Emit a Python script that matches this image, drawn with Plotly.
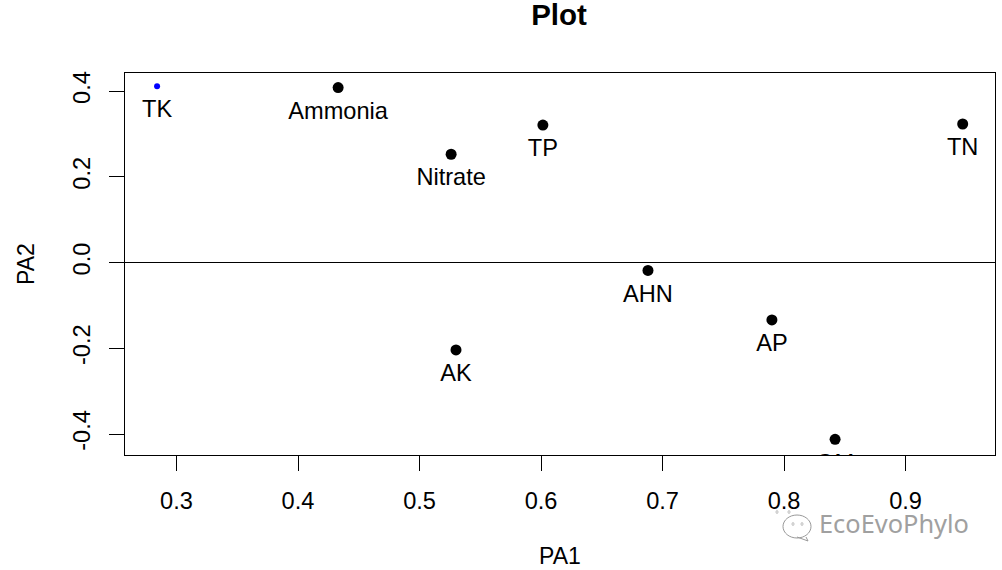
import plotly.graph_objects as go

names = ["TK", "Ammonia", "Nitrate", "TP", "TN", "AHN", "AP", "AK", "OM"]
pa1 = [0.284, 0.433, 0.526, 0.6015, 0.947, 0.688, 0.79, 0.53, 0.842]
pa2 = [0.411, 0.408, 0.2525, 0.3205, 0.323, -0.0185, -0.134, -0.204, -0.4125]
colors = ["#0000ff"] + ["#000000"] * 8
sizes = [6] + [11] * 8
x_ticks = [0.3, 0.4, 0.5, 0.6, 0.7, 0.8, 0.9]
y_ticks = [-0.4, -0.2, 0.0, 0.2, 0.4]
x_tick_labels = ["0.3", "0.4", "0.5", "0.6", "0.7", "0.8", "0.9"]
y_tick_labels = ["-0.4", "-0.2", "0.0", "0.2", "0.4"]
FONT = "Liberation Sans"
W, H = 1002, 570
L, R, T, B = 125, 995, 73, 455


def px(x):
    return (x - L) / (R - L)


def py(y):
    return (B - y) / (B - T)


def bubble(x0, x1, y0, y1, tx0, tx1, ty0, tipx, tipy):
    k = 0.5523
    cx, cy, a, b = (x0 + x1) / 2, (y0 + y1) / 2, (x1 - x0) / 2, (y1 - y0) / 2
    P = lambda x, y: f"{px(x):.5f},{py(y):.5f}"
    return (
        f"M{P(cx - a, cy)} C{P(cx - a, cy - k * b)} {P(cx - k * a, cy - b)} {P(cx, cy - b)} "
        f"C{P(cx + k * a, cy - b)} {P(cx + a, cy - k * b)} {P(cx + a, cy)} "
        f"C{P(cx + a, cy + k * b)} {P(cx + k * a, cy + b)} {P(cx, cy + b)} "
        f"C{P(cx - k * a, cy + b)} {P(cx - a, cy + k * b)} {P(cx - a, cy)} Z "
        f"M{P(tx0, ty0)} L{P(tipx, tipy)} L{P(tx1, ty0)}"
    )


def eye(x, y):
    return dict(type="circle", xref="paper", yref="paper", layer="above",
                x0=px(x - 1), x1=px(x + 1), y0=py(y + 1.5), y1=py(y - 1.5),
                line=dict(color="#b0b0b0", width=0.8), fillcolor="rgba(0,0,0,0)")


fig = go.Figure()
fig.add_trace(go.Scatter(x=pa1, y=pa2, mode="text+markers", text=names, textposition="bottom center",
                         marker=dict(size=20, opacity=0), cliponaxis=True,
                         textfont=dict(family=FONT, size=23.6, color="black"), hoverinfo="skip"))
fig.add_trace(go.Scatter(x=pa1, y=pa2, mode="markers",
                         marker=dict(size=sizes, color=colors, opacity=1, line=dict(width=0))))
fig.add_hline(y=0, line=dict(color="black", width=1))

axis = dict(showgrid=False, zeroline=False, showline=True, mirror=True, linecolor="black", linewidth=1,
            ticks="outside", ticklen=15, tickwidth=1, tickcolor="black", ticklabelstandoff=10,
            tickfont=dict(family=FONT, size=23.6, color="black"))
fig.update_layout(
    width=W, height=H, autosize=False, showlegend=False,
    paper_bgcolor="white", plot_bgcolor="white",
    margin=dict(l=L, r=W - R, t=T, b=H - B),
    title=dict(text="<b>Plot</b>", x=559 / W, xanchor="center", y=1 - 15 / H, yanchor="middle",
               font=dict(family=FONT, size=29.5, color="black")),
    xaxis=dict(axis, range=[0.2576, 0.9736], tickvals=x_ticks, ticktext=x_tick_labels,
               title=dict(text="PA1", font=dict(family=FONT, size=23, color="black"), standoff=34)),
    yaxis=dict(axis, range=[-0.44898, 0.44198], tickvals=y_ticks, ticktext=y_tick_labels, tickangle=-90,
               title=dict(text="PA2", font=dict(family=FONT, size=23, color="black"), standoff=27)),
    annotations=[dict(text="EcoEvoPhylo", xref="paper", yref="paper", xanchor="left", yanchor="middle",
                      x=px(817), y=py(523), showarrow=False,
                      font=dict(family="Noto Sans", size=25.4, color="#a0a0a0"))],
    shapes=[
        dict(type="path", xref="paper", yref="paper", layer="above",
             path=bubble(767, 798, 505, 531, 773, 782, 529, 771, 534),
             line=dict(color="#aaaaaa", width=1), fillcolor="rgba(0,0,0,0)"),
        dict(type="path", xref="paper", yref="paper", layer="above",
             path=bubble(783, 811, 515, 538, 797, 806, 537, 808, 541),
             line=dict(color="#999999", width=1), fillcolor="white"),
        eye(777, 512), eye(789, 512), eye(793, 524), eye(802, 524),
    ],
)
fig.write_html("out.html", config={"displayModeBar": False},
               post_script="document.body.style.margin='0';")
